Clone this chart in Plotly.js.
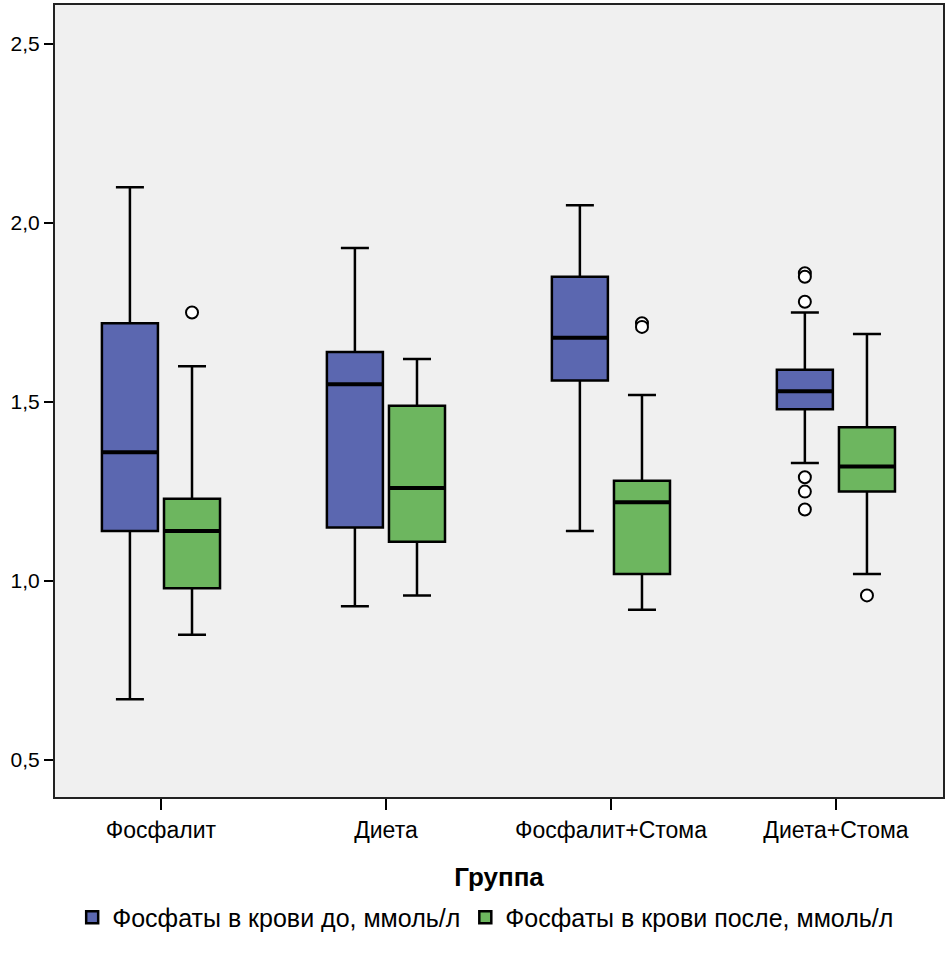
<!DOCTYPE html>
<html>
<head>
<meta charset="utf-8">
<script src="https://cdn.plot.ly/plotly-3.0.1.min.js"></script>
<style>html,body{margin:0;padding:0;background:#fff;}#chart{width:950px;height:953px;}</style>
</head>
<body>
<div id="chart"></div>
<script>
// Categories
const groups = ["Фосфалит", "Диета", "Фосфалит+Стома", "Диета+Стома"];
const seriesNames = ["Фосфаты в крови до, ммоль/л", "Фосфаты в крови после, ммоль/л"];

// Before ("до")
const beforeLower  = [0.67, 0.93, 1.14, 1.33];
const beforeQ1     = [1.14, 1.15, 1.56, 1.48];
const beforeMedian = [1.36, 1.55, 1.68, 1.53];
const beforeQ3     = [1.72, 1.64, 1.85, 1.59];
const beforeUpper  = [2.10, 1.93, 2.05, 1.75];
const beforeOutliers = [[], [], [], [1.86, 1.85, 1.78, 1.29, 1.25, 1.20]];

// After ("после")
const afterLower  = [0.85, 0.96, 0.92, 1.02];
const afterQ1     = [0.98, 1.11, 1.02, 1.25];
const afterMedian = [1.14, 1.26, 1.22, 1.32];
const afterQ3     = [1.23, 1.49, 1.28, 1.43];
const afterUpper  = [1.60, 1.62, 1.52, 1.69];
const afterOutliers = [[1.75], [], [1.72, 1.71], [0.96]];

const colors = ["#5b67b0", "#6db65f"];
const offset = 0.138;
const boxW = 0.249;

const idx = groups.map((g, i) => i);
const series = [
  {name: seriesNames[0], lo: beforeLower, q1: beforeQ1, med: beforeMedian, q3: beforeQ3, up: beforeUpper, out: beforeOutliers, dx: -offset, color: colors[0]},
  {name: seriesNames[1], lo: afterLower, q1: afterQ1, med: afterMedian, q3: afterQ3, up: afterUpper, out: afterOutliers, dx: offset, color: colors[1]}
];

const traces = [];
series.forEach(s => {
  const xs = idx.map(i => i + s.dx);
  traces.push({
    type: "box",
    name: s.name,
    x: xs,
    q1: s.q1, median: s.med, q3: s.q3,
    lowerfence: s.lo, upperfence: s.up,
    width: boxW,
    whiskerwidth: 0.5,
    fillcolor: s.color,
    line: {color: "#000", width: 2.5},
    marker: {color: s.color},
    boxpoints: false,
    hoverinfo: "skip"
  });
});
// thicker median lines
series.forEach(s => {
  const mx = [], my = [];
  idx.forEach(i => {
    mx.push(i + s.dx - boxW / 2, i + s.dx + boxW / 2, null);
    my.push(s.med[i], s.med[i], null);
  });
  traces.push({type: "scatter", mode: "lines", x: mx, y: my, line: {color: "#000", width: 4}, showlegend: false, hoverinfo: "skip"});
});
// outliers
series.forEach(s => {
  const ox = [], oy = [];
  idx.forEach(i => s.out[i].forEach(v => { ox.push(i + s.dx); oy.push(v); }));
  traces.push({type: "scatter", mode: "markers", x: ox, y: oy,
    marker: {symbol: "circle", size: 12, color: "#fff", line: {color: "#000", width: 2}},
    showlegend: false, hoverinfo: "skip"});
});

const font = "Liberation Sans, Arial, sans-serif";
const layout = {
  width: 950, height: 953,
  margin: {l: 55, r: 7, t: 5, b: 156},
  paper_bgcolor: "#ffffff",
  plot_bgcolor: "#f0f0f0",
  separators: ", ",
  showlegend: true,
  font: {family: font, size: 22, color: "#000"},
  xaxis: {
    range: [-0.471, 3.476],
    tickmode: "array",
    tickvals: idx,
    ticktext: groups,
    ticks: "outside", ticklen: 11, tickwidth: 2, tickcolor: "#000",
    showgrid: false, zeroline: false,
    showline: true, linecolor: "#222", linewidth: 2, mirror: true,
    tickfont: {family: font, size: 23},
    title: {text: "<b>Группа</b>", font: {family: font, size: 26}, standoff: 26}
  },
  yaxis: {
    range: [0.397, 2.609],
    tickvals: [0.5, 1.0, 1.5, 2.0, 2.5],
    tickformat: ".1f",
    ticks: "outside", ticklen: 9, tickwidth: 2, tickcolor: "#000",
    showgrid: false, zeroline: false,
    showline: true, linecolor: "#222", linewidth: 2, mirror: true,
    tickfont: {family: font, size: 21}
  },
  legend: {
    orientation: "h", x: 0.485, xanchor: "center", y: -0.152, yanchor: "middle",
    font: {family: font, size: 25},
    itemwidth: 30, traceorder: "normal"
  }
};

Plotly.newPlot("chart", traces, layout, {displayModeBar: false, staticPlot: true});
</script>
</body>
</html>
